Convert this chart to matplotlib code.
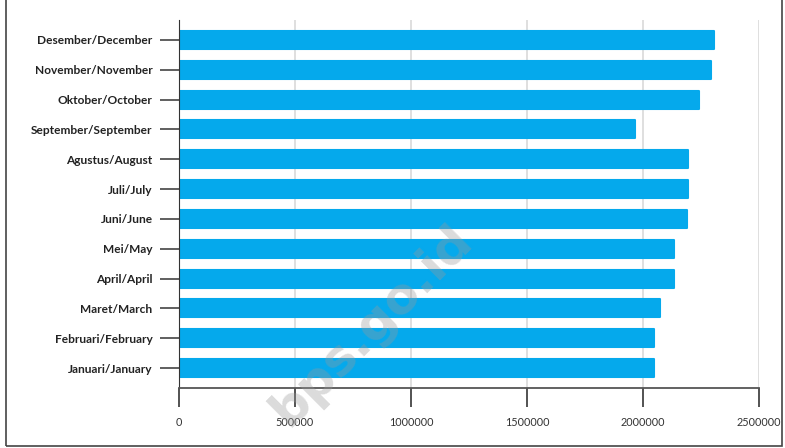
import numpy as np
import matplotlib
matplotlib.use("Agg")
import matplotlib.pyplot as plt
from matplotlib.patches import Rectangle

months = ["Januari/January", "Februari/February", "Maret/March", "April/April",
          "Mei/May", "Juni/June", "Juli/July", "Agustus/August",
          "September/September", "Oktober/October", "November/November",
          "Desember/December"]
values = [2049000, 2049000, 2072000, 2132000, 2132000, 2188000,
          2195000, 2195000, 1967000, 2243000, 2292000, 2306000]
xticks = [0, 500000, 1000000, 1500000, 2000000, 2500000]

bar_color = "#05A9EC"

fig = plt.figure(figsize=(7.85, 4.48), dpi=100)
ax = fig.add_axes([179 / 785, 1 - 388 / 448, 580 / 785, 368 / 448])

y = np.arange(len(months))
ax.barh(y, values, height=0.6, color=bar_color, edgecolor=bar_color,
        linewidth=1.5, joinstyle="round", zorder=2)

ax.set_xlim(0, 2500000)
ax.set_ylim(-0.67, len(months) - 1 + 0.67)
ax.set_xticks(xticks)
ax.set_xticklabels([str(v) for v in xticks])
ax.set_yticks(y)
ax.set_yticklabels(months)

ax.grid(axis="x", color="#d9d9d9", lw=1.2, zorder=0)
ax.set_axisbelow(True)

for s in ["top", "right"]:
    ax.spines[s].set_visible(False)
ax.spines["left"].set_color("#333333")
ax.spines["bottom"].set_color("#555555")
ax.spines["bottom"].set_linewidth(1.3)

ax.tick_params(axis="x", length=14, width=1.3, color="#444444",
               labelsize=7.8, labelcolor="#333333", pad=7)
ax.tick_params(axis="y", length=14, width=1.2, color="#444444", pad=5)
for lbl in ax.get_yticklabels():
    lbl.set_fontfamily("Lato")
    lbl.set_fontweight("bold")
    lbl.set_fontsize(8.6)
    lbl.set_color("#222222")
for lbl in ax.get_xticklabels():
    lbl.set_fontfamily("Lato")

# frame around the figure
fig.patches.append(Rectangle((6 / 785, 1 - 446 / 448), 776 / 785, 460 / 448,
                             transform=fig.transFigure, fill=False,
                             edgecolor="#444444", lw=1.2))

# watermark
fig.text(372 / 785, 1 - 325 / 448, "bps.go.id", fontsize=36, fontweight="bold",
         color="#999999", alpha=0.35, rotation=45, ha="center", va="center")

fig.savefig("out.png", dpi=100)
